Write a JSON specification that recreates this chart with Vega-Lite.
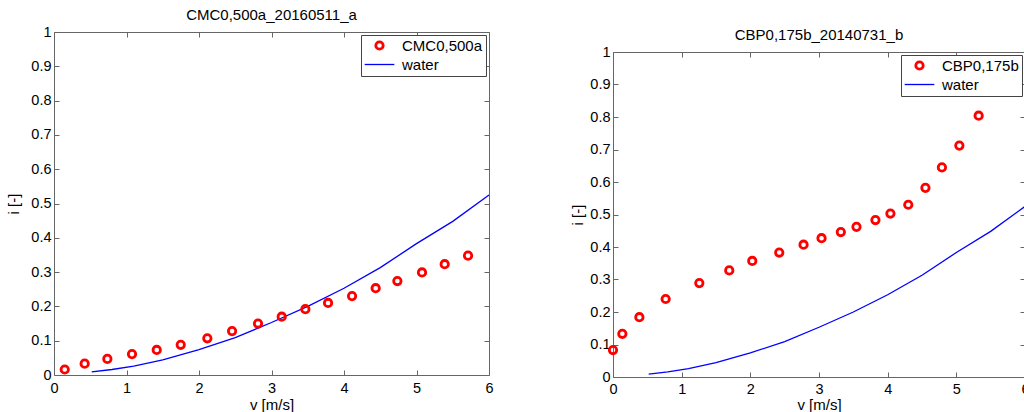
{
  "$schema": "https://vega.github.io/schema/vega-lite/v6.json",
  "padding": {"left": 6, "top": 6, "right": 0, "bottom": 0},
  "background": "white",
  "spacing": 76,
  "datasets": {
    "spacer": [{"k": 0}],
    "water": [
      {"v": 0.52, "i": 0.009}, {"v": 0.8, "i": 0.016}, {"v": 1.1, "i": 0.026},
      {"v": 1.5, "i": 0.044}, {"v": 2.0, "i": 0.074}, {"v": 2.5, "i": 0.109},
      {"v": 3.0, "i": 0.153}, {"v": 3.5, "i": 0.2}, {"v": 4.0, "i": 0.253},
      {"v": 4.5, "i": 0.313}, {"v": 5.0, "i": 0.383}, {"v": 5.5, "i": 0.448},
      {"v": 6.0, "i": 0.525}
    ],
    "cmc": [
      {"v": 0.148, "i": 0.016, "series": "CMC0,500a"}, {"v": 0.423, "i": 0.033, "series": "CMC0,500a"},
      {"v": 0.736, "i": 0.047, "series": "CMC0,500a"}, {"v": 1.076, "i": 0.061, "series": "CMC0,500a"},
      {"v": 1.417, "i": 0.073, "series": "CMC0,500a"}, {"v": 1.748, "i": 0.088, "series": "CMC0,500a"},
      {"v": 2.115, "i": 0.107, "series": "CMC0,500a"}, {"v": 2.456, "i": 0.128, "series": "CMC0,500a"},
      {"v": 2.814, "i": 0.15, "series": "CMC0,500a"}, {"v": 3.141, "i": 0.17, "series": "CMC0,500a"},
      {"v": 3.467, "i": 0.192, "series": "CMC0,500a"}, {"v": 3.78, "i": 0.21, "series": "CMC0,500a"},
      {"v": 4.111, "i": 0.23, "series": "CMC0,500a"}, {"v": 4.437, "i": 0.253, "series": "CMC0,500a"},
      {"v": 4.736, "i": 0.274, "series": "CMC0,500a"}, {"v": 5.076, "i": 0.299, "series": "CMC0,500a"},
      {"v": 5.389, "i": 0.323, "series": "CMC0,500a"}, {"v": 5.711, "i": 0.348, "series": "CMC0,500a"}
    ],
    "cbp": [
      {"v": 0.0, "i": 0.083, "series": "CBP0,175b"}, {"v": 0.136, "i": 0.133, "series": "CBP0,175b"},
      {"v": 0.384, "i": 0.184, "series": "CBP0,175b"}, {"v": 0.767, "i": 0.24, "series": "CBP0,175b"},
      {"v": 1.257, "i": 0.289, "series": "CBP0,175b"}, {"v": 1.693, "i": 0.328, "series": "CBP0,175b"},
      {"v": 2.028, "i": 0.357, "series": "CBP0,175b"}, {"v": 2.421, "i": 0.383, "series": "CBP0,175b"},
      {"v": 2.775, "i": 0.407, "series": "CBP0,175b"}, {"v": 3.037, "i": 0.427, "series": "CBP0,175b"},
      {"v": 3.318, "i": 0.446, "series": "CBP0,175b"}, {"v": 3.546, "i": 0.462, "series": "CBP0,175b"},
      {"v": 3.822, "i": 0.483, "series": "CBP0,175b"}, {"v": 4.04, "i": 0.503, "series": "CBP0,175b"},
      {"v": 4.3, "i": 0.53, "series": "CBP0,175b"}, {"v": 4.55, "i": 0.582, "series": "CBP0,175b"},
      {"v": 4.79, "i": 0.645, "series": "CBP0,175b"}, {"v": 5.044, "i": 0.712, "series": "CBP0,175b"},
      {"v": 5.325, "i": 0.804, "series": "CBP0,175b"}
    ]
  },
  "hconcat": [
    {
      "spacing": 0,
      "resolve": {"scale": {"color": "independent", "shape": "independent", "size": "independent", "strokeWidth": "independent"}, "legend": {"color": "independent", "shape": "independent", "size": "independent", "strokeWidth": "independent"}},
      "vconcat": [
        {
          "width": 1, "height": 1,
          "data": {"name": "spacer"},
          "mark": {"type": "point", "opacity": 0, "size": 0, "strokeWidth": 0, "filled": true},
          "view": {"stroke": null},
          "encoding": {}
        },
        {
          "width": 435,
          "height": 343,
          "title": {"text": "CMC0,500a_20160511_a", "offset": 1},
          "resolve": {"axis": {"x": "independent", "y": "independent"}},
          "layer": [
            {
              "data": {"name": "water"},
              "mark": {"type": "line", "color": "#0000FF", "strokeWidth": 1.3},
              "encoding": {
                "x": {"field": "v", "type": "quantitative", "scale": {"domain": [0, 6], "nice": false, "zero": false},
                  "axis": {"orient": "bottom", "values": [0, 1, 2, 3, 4, 5, 6], "format": "d", "title": "v [m/s]", "labelPadding": 11.5, "titlePadding": 2}},
                "y": {"field": "i", "type": "quantitative", "scale": {"domain": [0, 1], "nice": false},
                  "axis": {"orient": "left", "values": [0, 0.1, 0.2, 0.3, 0.4, 0.5, 0.6, 0.7, 0.8, 0.9, 1], "format": "~g", "title": "i [-]", "labelPadding": 8, "titlePadding": 9}}
              }
            },
            {
              "data": {"name": "cmc"},
              "mark": {"type": "point", "filled": false, "strokeWidth": 2.8, "opacity": 1},
              "encoding": {
                "x": {"field": "v", "type": "quantitative", "axis": null},
                "y": {"field": "i", "type": "quantitative", "axis": null},
                "color": {"field": "series", "type": "nominal", "scale": {"domain": ["CMC0,500a", "water"], "range": ["#FF0000", "#0000FF"]}, "legend": {"title": null}},
                "shape": {"field": "series", "type": "nominal", "scale": {"domain": ["CMC0,500a", "water"], "range": ["circle", "M-4,0H4"]}, "legend": {"title": null}},
                "size": {"field": "series", "type": "nominal", "scale": {"domain": ["CMC0,500a", "water"], "range": [55, 55]}, "legend": {"title": null}},
                "strokeWidth": {"field": "series", "type": "nominal", "scale": {"domain": ["CMC0,500a", "water"], "range": [2.8, 1.3]}, "legend": {"title": null}}
              }
            },
            {
              "data": {"name": "water"},
              "mark": {"type": "point", "opacity": 0},
              "encoding": {
                "x": {"field": "v", "type": "quantitative", "axis": {"orient": "top", "values": [0, 1, 2, 3, 4, 5, 6], "labels": false, "title": null}},
                "y": {"field": "i", "type": "quantitative", "axis": {"orient": "right", "values": [0, 0.1, 0.2, 0.3, 0.4, 0.5, 0.6, 0.7, 0.8, 0.9, 1], "labels": false, "title": null}}
              }
            }
          ]
        }
      ]
    },
    {
      "spacing": 0,
      "resolve": {"scale": {"color": "independent", "shape": "independent", "size": "independent", "strokeWidth": "independent"}, "legend": {"color": "independent", "shape": "independent", "size": "independent", "strokeWidth": "independent"}},
      "vconcat": [
        {
          "width": 1, "height": 21,
          "data": {"name": "spacer"},
          "mark": {"type": "point", "opacity": 0, "size": 0, "strokeWidth": 0, "filled": true},
          "view": {"stroke": null},
          "encoding": {}
        },
        {
          "width": 412,
          "height": 325,
          "title": {"text": "CBP0,175b_20140731_b", "offset": 1},
          "resolve": {"axis": {"x": "independent", "y": "independent"}},
          "layer": [
            {
              "data": {"name": "water"},
              "mark": {"type": "line", "color": "#0000FF", "strokeWidth": 1.3},
              "encoding": {
                "x": {"field": "v", "type": "quantitative", "scale": {"domain": [0, 6], "nice": false, "zero": false},
                  "axis": {"orient": "bottom", "values": [0, 1, 2, 3, 4, 5, 6], "format": "d", "title": "v [m/s]", "labelPadding": 10, "titlePadding": 2}},
                "y": {"field": "i", "type": "quantitative", "scale": {"domain": [0, 1], "nice": false},
                  "axis": {"orient": "left", "values": [0, 0.1, 0.2, 0.3, 0.4, 0.5, 0.6, 0.7, 0.8, 0.9, 1], "format": "~g", "title": "i [-]", "labelPadding": 8, "titlePadding": 4}}
              }
            },
            {
              "data": {"name": "cbp"},
              "mark": {"type": "point", "filled": false, "strokeWidth": 2.8, "opacity": 1},
              "encoding": {
                "x": {"field": "v", "type": "quantitative", "axis": null},
                "y": {"field": "i", "type": "quantitative", "axis": null},
                "color": {"field": "series", "type": "nominal", "scale": {"domain": ["CBP0,175b", "water"], "range": ["#FF0000", "#0000FF"]}, "legend": {"title": null}},
                "shape": {"field": "series", "type": "nominal", "scale": {"domain": ["CBP0,175b", "water"], "range": ["circle", "M-4,0H4"]}, "legend": {"title": null}},
                "size": {"field": "series", "type": "nominal", "scale": {"domain": ["CBP0,175b", "water"], "range": [55, 55]}, "legend": {"title": null}},
                "strokeWidth": {"field": "series", "type": "nominal", "scale": {"domain": ["CBP0,175b", "water"], "range": [2.8, 1.3]}, "legend": {"title": null}}
              }
            },
            {
              "data": {"name": "water"},
              "mark": {"type": "point", "opacity": 0},
              "encoding": {
                "x": {"field": "v", "type": "quantitative", "axis": {"orient": "top", "values": [0, 1, 2, 3, 4, 5, 6], "labels": false, "title": null}},
                "y": {"field": "i", "type": "quantitative", "axis": {"orient": "right", "values": [0, 0.1, 0.2, 0.3, 0.4, 0.5, 0.6, 0.7, 0.8, 0.9, 1], "labels": false, "title": null}}
              }
            }
          ]
        }
      ]
    }
  ],
  "resolve": {"scale": {"color": "independent", "shape": "independent", "size": "independent", "strokeWidth": "independent"}, "legend": {"color": "independent", "shape": "independent", "size": "independent", "strokeWidth": "independent"}},
  "config": {
    "font": "Liberation Sans",
    "view": {"stroke": "#666666", "strokeWidth": 1},
    "title": {"font": "Liberation Sans", "fontSize": 15, "fontWeight": "normal", "color": "#000000"},
    "axis": {
      "labelFont": "Liberation Sans", "labelFontSize": 14.5, "labelColor": "#000000",
      "titleFont": "Liberation Sans", "titleFontSize": 15, "titleFontWeight": "normal", "titleColor": "#000000",
      "domain": false, "grid": false, "tickSize": -5, "tickColor": "#666666",
      "labelFlush": false, "labelOverlap": false
    },
    "legend": {
      "orient": "top-right", "offset": 3, "strokeColor": "#444444", "fillColor": "#FFFFFF",
      "padding": 3, "labelFont": "Liberation Sans", "labelFontSize": 15, "labelColor": "#000000",
      "rowPadding": 2, "symbolOffset": 8, "labelOffset": 15, "cornerRadius": 0
    }
  }
}
